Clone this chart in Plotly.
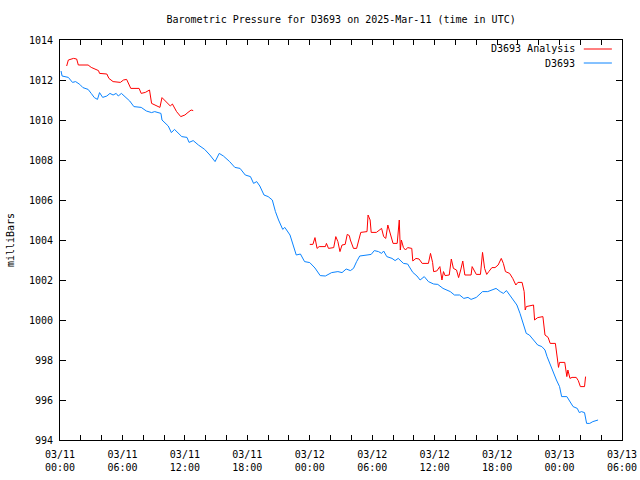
import plotly.graph_objects as go
import pandas as pd

# ---- data (hours since 2025-03-11 00:00 UTC, pressure in mb) ----
station_hours = [0.1, 0.2, 0.8, 1.2, 1.5, 1.9, 2.2, 2.7, 3.0, 3.3,
                 3.6, 3.8, 4.1, 4.5, 4.8, 5.1, 5.4, 5.6, 5.9, 6.2,
                 6.7, 7.1, 7.8, 8.3, 8.8, 9.1, 9.7, 9.8, 10.4, 10.7,
                 11.0, 11.7, 12.2, 12.4, 12.8, 13.3, 13.9, 14.4, 14.9, 15.3,
                 15.7, 16.3, 16.8, 17.3, 17.8, 18.3, 18.6, 18.9, 19.2, 19.6,
                 20.0, 20.4, 20.7, 21.0, 21.4, 21.6, 22.1, 22.4, 22.7, 23.1,
                 23.5, 24.0, 24.5, 25.0, 25.5, 26.1, 26.7, 27.1, 27.5, 27.9,
                 28.2, 28.5, 28.8, 29.5, 29.9, 30.2, 30.6, 30.9, 31.1, 31.4,
                 31.9, 32.2, 32.5, 33.0, 33.4, 33.9, 34.3, 34.6, 35.0, 35.4,
                 35.9, 36.3, 36.8, 37.5, 37.9, 38.4, 38.8, 39.2, 39.5, 40.0,
                 40.3, 40.6, 41.1, 41.5, 41.9, 42.3, 42.6, 42.9, 43.2, 43.5,
                 43.9, 44.2, 44.5, 44.8, 45.1, 45.5, 45.7, 45.9, 46.3, 46.6,
                 46.8, 47.1, 47.4, 47.7, 48.0, 48.2, 48.7, 49.0, 49.3, 49.7,
                 49.9, 50.1, 50.4, 50.6, 50.9, 51.2, 51.7]
station_mb = [1012.45, 1012.2, 1012.13, 1011.88, 1011.92, 1011.78, 1011.62, 1011.53, 1011.33, 1011.12,
              1011.03, 1011.37, 1011.13, 1011.2, 1011.33, 1011.25, 1011.33, 1011.2, 1011.33, 1011.17,
              1010.95, 1010.67, 1010.63, 1010.45, 1010.37, 1010.42, 1010.33, 1010.0, 1009.7, 1009.37,
              1009.53, 1009.17, 1009.13, 1008.88, 1008.97, 1008.75, 1008.53, 1008.25, 1007.92, 1008.33,
              1008.2, 1007.92, 1007.63, 1007.58, 1007.25, 1007.17, 1006.83, 1006.92, 1006.7, 1006.25,
              1006.17, 1006.0, 1005.42, 1005.0, 1004.53, 1004.63, 1004.25, 1003.75, 1003.25, 1003.3,
              1002.92, 1002.87, 1002.6, 1002.22, 1002.2, 1002.37, 1002.42, 1002.37, 1002.55, 1002.47,
              1002.58, 1002.92, 1003.2, 1003.25, 1003.28, 1003.47, 1003.42, 1003.33, 1003.45, 1003.17,
              1003.08, 1002.97, 1003.08, 1002.83, 1002.8, 1002.38, 1002.2, 1002.0, 1002.17, 1001.92,
              1001.8, 1001.78, 1001.58, 1001.42, 1001.25, 1001.25, 1001.08, 1001.13, 1001.03, 1001.13,
              1001.28, 1001.42, 1001.42, 1001.5, 1001.58, 1001.42, 1001.33, 1001.47, 1001.25, 1001.08,
              1000.75, 1000.33, 999.83, 999.33, 999.25, 999.0, 998.83, 998.75, 998.67, 998.5,
              998.17, 997.75, 997.33, 997.0, 996.67, 996.17, 996.17, 995.92, 995.67, 995.58,
              995.37, 995.42, 995.37, 994.83, 994.83, 994.92, 995.0]

analysis_hours_1 = [0.64, 0.8, 1.3, 1.6, 1.76, 2.1, 2.4, 2.7, 3.0, 3.4,
                    3.7, 3.8, 4.5, 4.7, 5.1, 5.8, 6.1, 6.4, 6.6, 6.8,
                    7.6, 7.8, 8.2, 8.6, 8.8, 9.1, 9.6, 9.8, 10.2, 10.6,
                    10.8, 11.2, 11.6, 12.0, 12.3, 12.6, 12.8]
analysis_mb_1 = [1012.7, 1013.0, 1013.08, 1013.05, 1012.75, 1012.75, 1012.78, 1012.75, 1012.63, 1012.55,
                 1012.47, 1012.33, 1012.3, 1012.08, 1011.92, 1011.88, 1012.0, 1012.03, 1011.8, 1011.58,
                 1011.58, 1011.33, 1011.38, 1011.5, 1010.83, 1010.75, 1010.63, 1011.12, 1010.92, 1010.7,
                 1010.8, 1010.42, 1010.17, 1010.25, 1010.38, 1010.5, 1010.47]

analysis_hours_2 = [24.0, 24.3, 24.5, 24.7, 24.9, 25.5, 25.6, 25.8, 26.3, 26.5,
                    26.7, 26.9, 27.1, 27.4, 27.6, 27.8, 27.9, 28.2, 28.5, 28.7,
                    28.9, 29.5, 29.6, 29.8, 29.9, 30.4, 30.9, 31.1, 31.3, 31.5,
                    31.8, 32.0, 32.4, 32.6, 32.7, 32.8, 33.0, 33.2, 33.4, 33.8,
                    33.9, 34.2, 34.5, 34.8, 35.4, 35.6, 35.8, 35.9, 36.2, 36.5,
                    36.7, 36.85, 37.0, 37.4, 37.6, 37.8, 38.1, 38.3, 38.5, 38.7,
                    38.9, 39.5, 39.6, 39.9, 40.0, 40.4, 40.6, 40.8, 41.0, 41.2,
                    41.5, 41.8, 42.1, 42.4, 42.6, 42.8, 43.2, 43.5, 43.8, 44.0,
                    44.4, 44.6, 44.7, 44.8, 45.3, 45.5, 45.6, 45.9, 46.4, 46.6,
                    46.9, 47.1, 47.6, 47.8, 47.9, 48.0, 48.5, 48.7, 48.8, 49.0,
                    49.2, 49.6, 49.8, 50.0, 50.4, 50.5]
analysis_mb_2 = [1003.78, 1003.78, 1004.12, 1003.58, 1003.67, 1003.67, 1003.83, 1003.58, 1003.62, 1004.17,
                 1003.92, 1003.42, 1003.75, 1003.78, 1004.28, 1004.22, 1004.0, 1003.58, 1003.58, 1003.92,
                 1004.38, 1004.42, 1005.25, 1005.0, 1004.38, 1004.38, 1004.58, 1004.17, 1004.08, 1004.75,
                 1004.25, 1003.83, 1003.83, 1005.0, 1003.5, 1004.0, 1003.62, 1003.5, 1003.62, 1003.58,
                 1002.95, 1003.08, 1003.05, 1002.83, 1002.83, 1003.33, 1002.88, 1002.42, 1002.45, 1002.67,
                 1002.0, 1002.42, 1002.22, 1002.25, 1003.05, 1002.58, 1002.5, 1002.12, 1002.5, 1002.95,
                 1002.25, 1002.25, 1002.67, 1002.42, 1002.28, 1002.28, 1003.38, 1002.58, 1002.28, 1002.42,
                 1002.62, 1002.62, 1002.75, 1003.08, 1002.83, 1002.42, 1002.33, 1002.08, 1001.75, 1001.88,
                 1001.88, 1001.42, 1000.5, 1000.67, 1000.72, 1000.75, 1000.0, 1000.12, 1000.17, 999.25,
                 999.13, 998.83, 998.83, 998.0, 997.63, 997.88, 997.88, 997.17, 997.5, 997.08,
                 997.13, 997.13, 996.97, 996.67, 996.67, 997.17]

start_time = pd.Timestamp("2025-03-11 00:00")
end_time = pd.Timestamp("2025-03-13 06:00")

def to_times(hours):
    return [start_time + pd.Timedelta(hours=h) for h in hours]

RED = "#ff0000"
BLUE = "#0a84ff"
FONT = "DejaVu Sans Mono"

station_x = to_times(station_hours)
analysis_x = to_times(analysis_hours_1) + [None] + to_times(analysis_hours_2)
analysis_y = analysis_mb_1 + [None] + analysis_mb_2

fig = go.Figure()
fig.add_trace(go.Scatter(x=analysis_x, y=analysis_y, mode="lines", name="D3693 Analysis",
                         line=dict(color=RED, width=1), connectgaps=False, showlegend=False))
fig.add_trace(go.Scatter(x=station_x, y=station_mb, mode="lines", name="D3693",
                         line=dict(color=BLUE, width=1), showlegend=False))

# gnuplot-style key: text right-aligned, line sample to the right
key_items = [("D3693 Analysis", RED), ("D3693", BLUE)]
key_y = [0.9775, 0.9425]
for (label, col), ky in zip(key_items, key_y):
    fig.add_annotation(xref="paper", yref="paper", x=0.92, y=ky, text=label,
                       showarrow=False, xanchor="right", yanchor="middle",
                       font=dict(family=FONT, size=10, color="black"))
    fig.add_shape(type="line", xref="paper", yref="paper", x0=0.932, x1=0.982,
                  y0=ky, y1=ky, line=dict(color=col, width=1))

fig.update_layout(
    width=640, height=480,
    margin=dict(l=60, r=18, t=40, b=40),
    paper_bgcolor="white", plot_bgcolor="white",
    font=dict(family=FONT, size=10, color="black"),
    title=dict(text="Barometric Pressure for D3693 on 2025-Mar-11 (time in UTC)",
               x=0.533, xanchor="center", y=0.96, yanchor="middle",
               font=dict(family=FONT, size=10, color="black")),
)
fig.update_xaxes(
    type="date", range=[start_time, end_time], automargin=False,
    tick0=start_time, dtick=6 * 3600 * 1000, tickformat="%m/%d<br>%H:%M",
    ticks="inside", ticklen=5, tickcolor="black", ticklabelstandoff=5,
    minor=dict(dtick=2 * 3600 * 1000, ticks="inside", ticklen=5, tickcolor="black", showgrid=False),
    showline=True, linecolor="black", linewidth=1, mirror="allticks",
    showgrid=False, zeroline=False,
    tickfont=dict(family=FONT, size=10, color="black"),
)
fig.update_yaxes(
    range=[994, 1014], tick0=994, dtick=2, automargin=False,
    ticks="inside", ticklen=6, tickcolor="black", ticklabelstandoff=4,
    showline=True, linecolor="black", linewidth=1, mirror="allticks",
    showgrid=False, zeroline=False,
    tickfont=dict(family=FONT, size=10, color="black"),
    title=dict(text="milliBars", standoff=12, font=dict(family=FONT, size=10, color="black")),
)

fig.write_html("out.html", config={"displayModeBar": False},
               post_script="document.body.style.margin='0';")
